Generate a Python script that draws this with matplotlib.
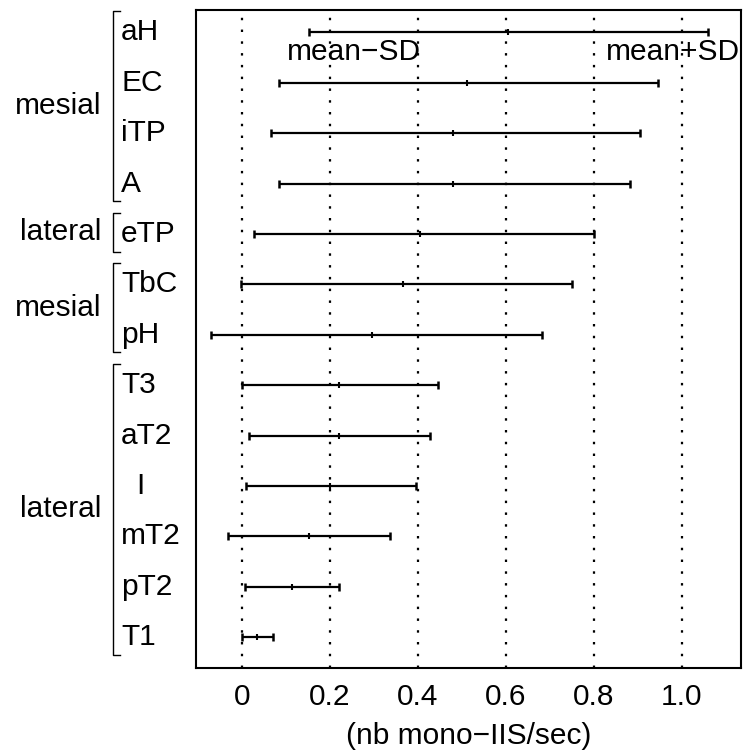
import matplotlib
matplotlib.use("Agg")
import matplotlib.pyplot as plt
import matplotlib.transforms as mtransforms

plt.rcParams['font.family'] = ['Liberation Sans', 'DejaVu Sans']

labels = ["aH", "EC", "iTP", "A", "eTP", "TbC", "pH", "T3", "aT2", "I", "mT2", "pT2", "T1"]
means = [0.606, 0.511, 0.480, 0.480, 0.405, 0.366, 0.297, 0.220, 0.220, 0.200, 0.153, 0.114, 0.034]
lower = [0.153, 0.085, 0.066, 0.085, 0.027, -0.002, -0.070, 0.000, 0.017, 0.009, -0.031, 0.008, 0.000]
upper = [1.060, 0.946, 0.904, 0.882, 0.800, 0.750, 0.683, 0.447, 0.427, 0.395, 0.338, 0.221, 0.072]

group_names = ["mesial", "lateral", "mesial", "lateral"]
group_first = [0, 4, 5, 7]
group_last = [3, 4, 6, 12]

xticks = [0, 0.2, 0.4, 0.6, 0.8, 1.0]
xticklabels = ["0", "0.2", "0.4", "0.6", "0.8", "1.0"]
xlabel = "(nb mono\u2212IIS/sec)"

W, H = 744, 753
fig = plt.figure(figsize=(W / 100, H / 100), dpi=100)
ax = fig.add_axes([196 / W, 1 - 668 / H, (741 - 196) / W, (668 - 9.5) / H])

n = len(labels)
ypos = [n - i for i in range(n)]

for xv in xticks:
    ax.axvline(xv, color="black", lw=1.6, linestyle=(0, (1.1, 4.2)), zorder=1)

ax.hlines(ypos, lower, upper, color="black", lw=1.6, zorder=3)
ax.plot(lower, ypos, linestyle="none", marker="|", markersize=5.5, mew=1.8, color="black", zorder=3)
ax.plot(upper, ypos, linestyle="none", marker="|", markersize=5.5, mew=1.8, color="black", zorder=3)
ax.plot(means, ypos, linestyle="none", marker="|", markersize=4.5, mew=1.5, color="black", zorder=3)

fs = 21.5
ax.text(0.256, ypos[0] - 0.385, "mean\u2212SD", ha="center", va="center", fontsize=fs)
ax.text(0.981, ypos[0] - 0.385, "mean+SD", ha="center", va="center", fontsize=fs)

ax.set_xlim(-0.1038, 1.1343)
ax.set_ylim(0.391, 13.452)
ax.set_yticks([])
ax.set_xticks(xticks)
ax.set_xticklabels(xticklabels, fontsize=fs)
ax.tick_params(axis="x", length=0, pad=11)
ax.set_xlabel(xlabel, fontsize=fs, labelpad=8)
for s in ax.spines.values():
    s.set_linewidth(1.5)

trans = mtransforms.blended_transform_factory(fig.transFigure, ax.transData)
x_lab = 121 / W
for lab, y in zip(labels, ypos):
    dx = 15 / W if lab == "I" else 0
    ax.text(x_lab + dx, y, lab, transform=trans, ha="left", va="center", fontsize=fs, clip_on=False)

xb = 112.5 / W
xt = 120 / W
for name, a, b in zip(group_names, group_first, group_last):
    top = ypos[a] + 0.42
    bot = ypos[b] - 0.35
    ax.plot([xt, xb, xb, xt], [top, top, bot, bot], transform=trans, color="black", lw=1.0, clip_on=False)
    ax.text(101 / W, (top + bot) / 2, name, transform=trans, ha="right", va="center", fontsize=fs, clip_on=False)

fig.savefig("out.png", dpi=100)
